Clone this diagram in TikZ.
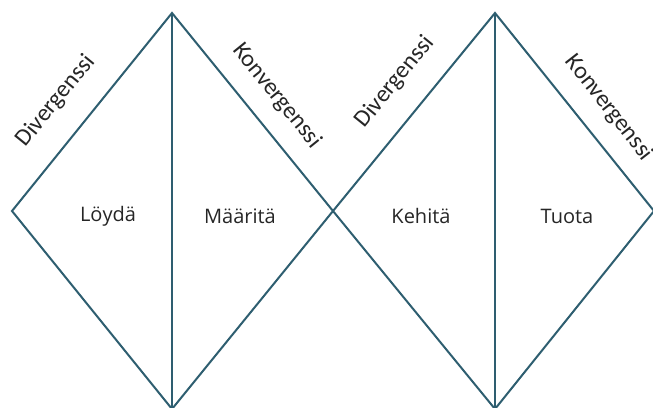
\documentclass[tikz,border=0pt]{standalone}
\usepackage{fontspec}
\setmainfont{Carlito}
\newfontfamily\labelfont{Open Sans}
\definecolor{edgecol}{HTML}{2E5E70}
\definecolor{txtcol}{HTML}{262626}
\begin{document}
\begin{tikzpicture}[x=1pt,y=-1pt,
  edge/.style={draw=edgecol,line width=2pt,line join=miter},
  sidelabel/.style={font=\fontsize{24}{28}\selectfont,text=txtcol,inner sep=0pt},
  phase/.style={font=\labelfont\fontsize{20}{24}\selectfont,text=txtcol,inner sep=0pt}]
\useasboundingbox (0,0) rectangle (653,407);
\clip (0,0) rectangle (653,407);
\fill[white] (0,0) rectangle (653,407);
% vertices
\coordinate (L1) at (12,211);
\coordinate (T1) at (172,13);
\coordinate (B1) at (172,409);
\coordinate (M) at (333,211);
\coordinate (T2) at (495,13);
\coordinate (B2) at (495,409);
\coordinate (R2) at (654,211);
% diamonds
\draw[edge] (L1) -- (T1) -- (M) -- (B1) -- cycle;
\draw[edge] (T1) -- (B1);
\draw[edge] (M) -- (T2) -- (R2) -- (B2) -- cycle;
\draw[edge] (T2) -- (B2);
% side labels
\node[sidelabel,rotate=51] (d1) at (56,101) {Divergenssi};
\node[sidelabel,rotate=-51] (k1) at (277,96) {Konvergenssi};
\node[sidelabel,rotate=51] (d2) at (395,82) {Divergenssi};
\node[sidelabel,rotate=-52] (k2) at (609,108) {Konvergenssi};
% phase labels
\node[phase] (p1) at (108,216) {Löydä};
\node[phase] (p2) at (240,216) {Määritä};
\node[phase] (p3) at (421,216) {Kehitä};
\node[phase] (p4) at (567,216) {Tuota};
\end{tikzpicture}
\end{document}
